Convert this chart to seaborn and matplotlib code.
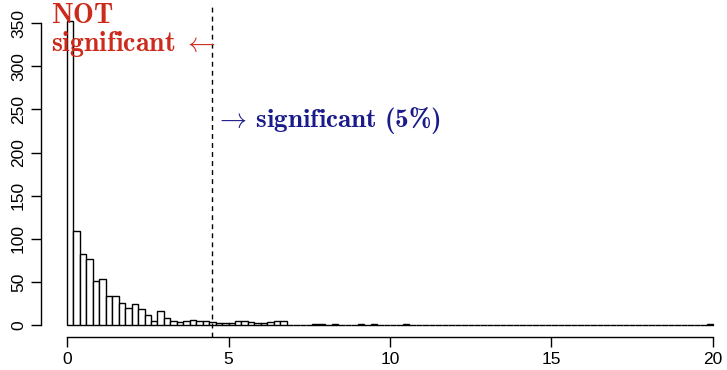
import numpy as np
import pandas as pd
import matplotlib
matplotlib.use("Agg")
import matplotlib.pyplot as plt
import seaborn as sns

# ---- data ----
bin_width = 0.2
counts_low = [353, 109, 82, 76, 51, 53, 34, 33, 26, 20, 24, 19, 12, 5, 16, 8,
              4, 3, 5, 6, 4, 4, 3, 2, 2, 2, 4, 4, 3, 2, 2, 3, 4, 4]  # bins 0.0 .. 6.8
sparse_bins = [7.7, 7.9, 8.3, 9.1, 9.5, 10.5, 19.9]   # centres of isolated bins
sparse_counts = [1, 1, 1, 1, 1, 1, 1]
critical_value = 4.5
x_ticks = [0, 5, 10, 15, 20]
y_ticks = [0, 50, 100, 150, 200, 250, 300, 350]

centres = list(np.arange(len(counts_low)) * bin_width + bin_width / 2) + sparse_bins
weights = counts_low + sparse_counts
df = pd.DataFrame({"stat": centres, "n": weights})

sns.set_theme(style="white")
plt.rcParams["font.family"] = ["Liberation Sans", "DejaVu Sans"]
plt.rcParams["mathtext.fontset"] = "custom"
plt.rcParams["mathtext.rm"] = "cmr10"
plt.rcParams["mathtext.bf"] = "cmb10"
plt.rcParams["mathtext.it"] = "cmmi10"
plt.rcParams["mathtext.fallback"] = "cm"

fig = plt.figure(figsize=(7.27, 3.70), dpi=100)
ax = fig.add_axes([41.2 / 727, 33 / 370, 697.6 / 727, 325.8 / 370])

sns.histplot(data=df, x="stat", weights="n", binwidth=bin_width, binrange=(0, 20),
             ax=ax, color="white", edgecolor="black", linewidth=1.0, alpha=1)

ax.set_xlim(-0.8, 20.8)
ax.set_ylim(-14, 364)
ax.axvline(critical_value, color="black", linestyle=(0, (3.5, 3)), linewidth=1.0,
           ymin=0, ymax=1.015, clip_on=False)

for s in ["top", "right"]:
    ax.spines[s].set_visible(False)
ax.spines["left"].set_bounds(0, 350)
ax.spines["bottom"].set_bounds(0, 20)
for s in ["left", "bottom"]:
    ax.spines[s].set_color("black")
    ax.spines[s].set_linewidth(1.0)

ax.set_xticks(x_ticks)
ax.set_yticks(y_ticks)
ax.set_xticklabels([str(v) for v in x_ticks])
ax.set_yticklabels([str(v) for v in y_ticks], rotation=90, va="center")
ax.tick_params(axis="both", which="both", direction="out", length=7, width=1.0,
               color="black", labelsize=12.5, labelcolor="black", pad=4,
               left=True, bottom=True)
ax.set_xlabel("")
ax.set_ylabel("")
ax.grid(False)

red = "#cc2a1a"
navy = "#1a1a8a"
fig.text(51 / 727, 1 - 23 / 370, r"$\mathbf{NOT}$", color=red, fontsize=20,
         ha="left", va="baseline")
fig.text(51 / 727, 1 - 51 / 370, r"$\mathbf{significant}\ \leftarrow$", color=red,
         fontsize=20, ha="left", va="baseline")
fig.text(215 / 727, 1 - 127 / 370,
         r"$\rightarrow\,\mathbf{significant}\ \mathbf{(5\%)}$",
         color=navy, fontsize=19.5, ha="left", va="baseline")

fig.savefig("out.png", dpi=100)
